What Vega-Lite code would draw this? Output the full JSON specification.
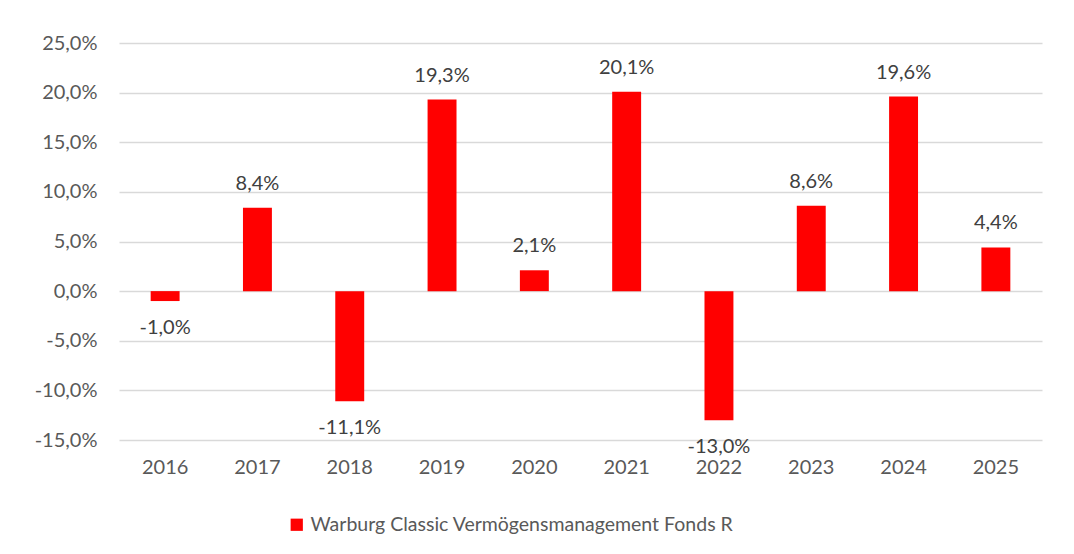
{
  "$schema": "https://vega.github.io/schema/vega-lite/v6.json",
  "width": 923,
  "height": 397,
  "autosize": {"type": "none"},
  "padding": {"left": 119, "top": 43, "right": 32, "bottom": 114},
  "background": "white",
  "config": {
    "locale": {"number": {"decimal": ",", "thousands": ".", "grouping": [3], "currency": ["", " €"], "minus": "-"}},
    "view": {"stroke": null},
    "font": "Lato",
    "text": {"font": "Lato"}
  },
  "data": {
    "values": [
      {"year": "2016", "ret": -0.010, "series": "Warburg Classic Vermögensmanagement Fonds R"},
      {"year": "2017", "ret": 0.084, "series": "Warburg Classic Vermögensmanagement Fonds R"},
      {"year": "2018", "ret": -0.111, "series": "Warburg Classic Vermögensmanagement Fonds R"},
      {"year": "2019", "ret": 0.193, "series": "Warburg Classic Vermögensmanagement Fonds R"},
      {"year": "2020", "ret": 0.021, "series": "Warburg Classic Vermögensmanagement Fonds R"},
      {"year": "2021", "ret": 0.201, "series": "Warburg Classic Vermögensmanagement Fonds R"},
      {"year": "2022", "ret": -0.130, "series": "Warburg Classic Vermögensmanagement Fonds R"},
      {"year": "2023", "ret": 0.086, "series": "Warburg Classic Vermögensmanagement Fonds R"},
      {"year": "2024", "ret": 0.196, "series": "Warburg Classic Vermögensmanagement Fonds R"},
      {"year": "2025", "ret": 0.044, "series": "Warburg Classic Vermögensmanagement Fonds R"}
    ]
  },
  "encoding": {
    "x": {
      "field": "year", "type": "ordinal",
      "scale": {"paddingInner": 0.6865, "paddingOuter": 0.343},
      "axis": {
        "title": null, "labelAngle": 0, "domain": false, "ticks": false,
        "labelFont": "Lato", "labelFontSize": 20, "labelColor": "#595959",
        "labelPadding": 17, "orient": "bottom"
      }
    },
    "y": {
      "field": "ret", "type": "quantitative",
      "scale": {"domain": [-0.15, 0.25], "nice": false, "zero": false},
      "axis": {
        "title": null, "format": ".1%", "values": [-0.15, -0.1, -0.05, 0, 0.05, 0.1, 0.15, 0.2, 0.25],
        "domain": false, "ticks": false, "grid": true, "gridColor": "#d9d9d9", "gridWidth": 1.3,
        "labelFont": "Lato", "labelFontSize": 20, "labelColor": "#595959", "labelPadding": 22
      }
    }
  },
  "layer": [
    {
      "mark": {"type": "bar"},
      "encoding": {
        "color": {
          "field": "series", "type": "nominal",
          "scale": {"range": ["#ff0000"]},
          "legend": {
            "title": null, "orient": "none", "legendX": 168, "legendY": 472,
            "direction": "horizontal", "symbolType": "square", "symbolSize": 150,
            "symbolStrokeWidth": 0, "labelFont": "Lato", "labelFontSize": 19.5,
            "labelColor": "#595959", "labelOffset": 4, "labelLimit": 800
          }
        }
      }
    },
    {
      "transform": [{"filter": "datum.ret >= 0"}],
      "mark": {"type": "text", "font": "Lato", "fontSize": 20, "color": "#404040", "baseline": "alphabetic", "dy": -18},
      "encoding": {"text": {"field": "ret", "type": "quantitative", "format": ".1%"}}
    },
    {
      "transform": [{"filter": "datum.ret < 0"}],
      "mark": {"type": "text", "font": "Lato", "fontSize": 20, "color": "#404040", "baseline": "alphabetic", "dy": 33},
      "encoding": {"text": {"field": "ret", "type": "quantitative", "format": ".1%"}}
    }
  ]
}
